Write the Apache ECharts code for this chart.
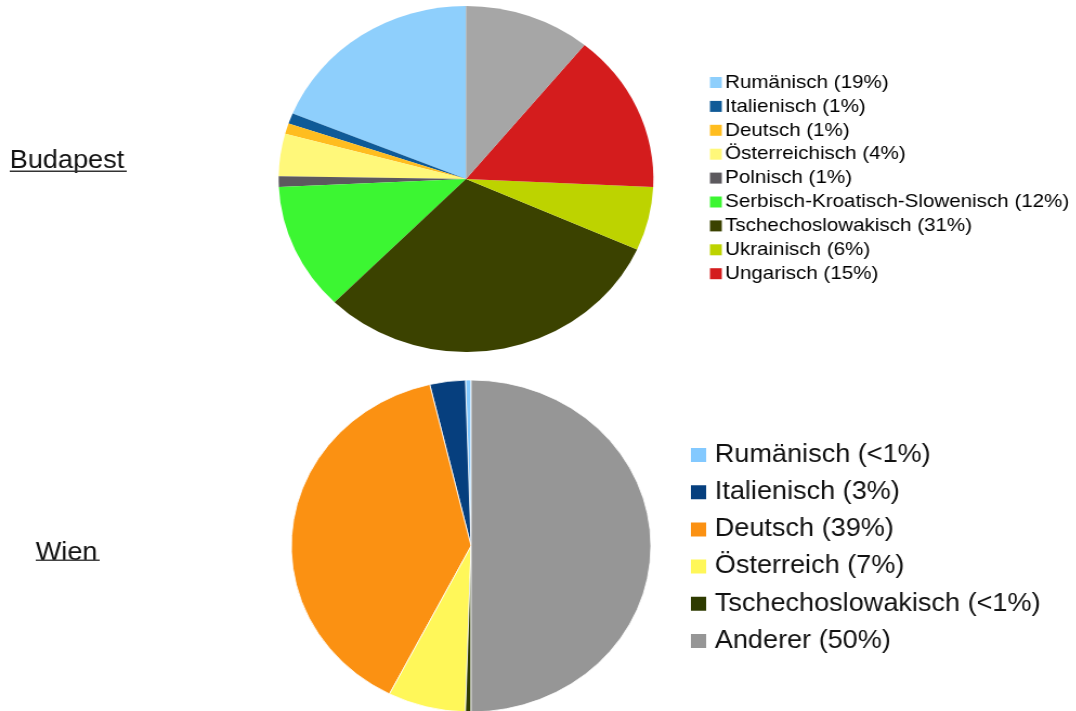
<!DOCTYPE html>
<html>
<head>
<meta charset="utf-8">
<script src="https://cdn.jsdelivr.net/npm/echarts@6/dist/echarts.min.js"></script>
<style>
html,body{margin:0;padding:0;background:#fff;overflow:hidden;}
#chart{width:994px;height:711px;transform:scaleX(1.083);transform-origin:0 0;}
</style>
</head>
<body>
<div id="chart"></div>
<script>
// Budapest
const budapestNames = ['Rumänisch (19%)','Italienisch (1%)','Deutsch (1%)','Österreichisch (4%)','Polnisch (1%)','Serbisch-Kroatisch-Slowenisch (12%)','Tschechoslowakisch (31%)','Ukrainisch (6%)','Ungarisch (15%)','Andere'];
const budapestValues = [19, 1, 1, 4, 1, 12, 31, 6, 15, 11];
const budapestColors = ['#8ecffc','#0f5a97','#ffbd1f','#fff87a','#5c595e','#3cf632','#3b4200','#bdd300','#d41c1d','#a6a6a6'];
// Wien
const wienNames = ['Rumänisch (<1%)','Italienisch (3%)','Deutsch (39%)','Österreich (7%)','Tschechoslowakisch (<1%)','Anderer (50%)'];
const wienValues = [0.5, 3.2, 38.8, 7, 0.5, 50];
const wienColors = ['#83c9ff','#063f7e','#fb9112','#fff759','#2e3b00','#969696'];

const chart = echarts.init(document.getElementById('chart'), null, {renderer:'canvas'});

const bData = budapestNames.map((n,i)=>({name:n, value:budapestValues[i], itemStyle:{color:budapestColors[i]}}));
const wData = wienNames.map((n,i)=>({name:n, value:wienValues[i], itemStyle:{color:wienColors[i]}}));

chart.setOption({
  animation:false,
  backgroundColor:'#fff',
  legend:[{
    orient:'vertical', left:655.5, top:73, padding:0,
    data:budapestNames.slice(0,9),
    icon:'rect', itemWidth:11, itemHeight:11, itemGap:4.9,
    textStyle:{fontFamily:'Liberation Sans, Arial, sans-serif', fontSize:19, lineHeight:19, color:'#000', padding:[0,0,0,-2]},
    selectedMode:false
  },{
    orient:'vertical', left:636, top:442.5, padding:0,
    data:wienNames,
    icon:'rect', itemWidth:16, itemHeight:16, itemGap:12.2,
    textStyle:{fontFamily:'Liberation Sans, Arial, sans-serif', fontSize:25, lineHeight:25, color:'#111', padding:[0,0,0,2]},
    selectedMode:false
  }],
  graphic:[
    {type:'text', left:9, top:149, style:{text:'Budapest', font:'25px "Liberation Sans", Arial, sans-serif', fill:'#111'}},
    {type:'rect', left:9, top:170.5, shape:{width:108, height:1.6}, style:{fill:'#333'}},
    {type:'text', left:33, top:541, style:{text:'Wien', font:'25px "Liberation Sans", Arial, sans-serif', fill:'#111'}},
    {type:'rect', left:33, top:559.5, shape:{width:59, height:1.6}, style:{fill:'#444'}}
  ],
  series:[{
    type:'pie', center:[430.3,179], radius:[0,173], startAngle:90, clockwise:false,
    label:{show:false}, labelLine:{show:false}, emphasis:{disabled:true},
    data:bData
  },{
    type:'pie', center:[435,546], radius:[0,166], startAngle:90, clockwise:false,
    label:{show:false}, labelLine:{show:false}, emphasis:{disabled:true},
    itemStyle:{borderColor:'#fff', borderWidth:0.8},
    data:wData
  }]
});
</script>
</body>
</html>
